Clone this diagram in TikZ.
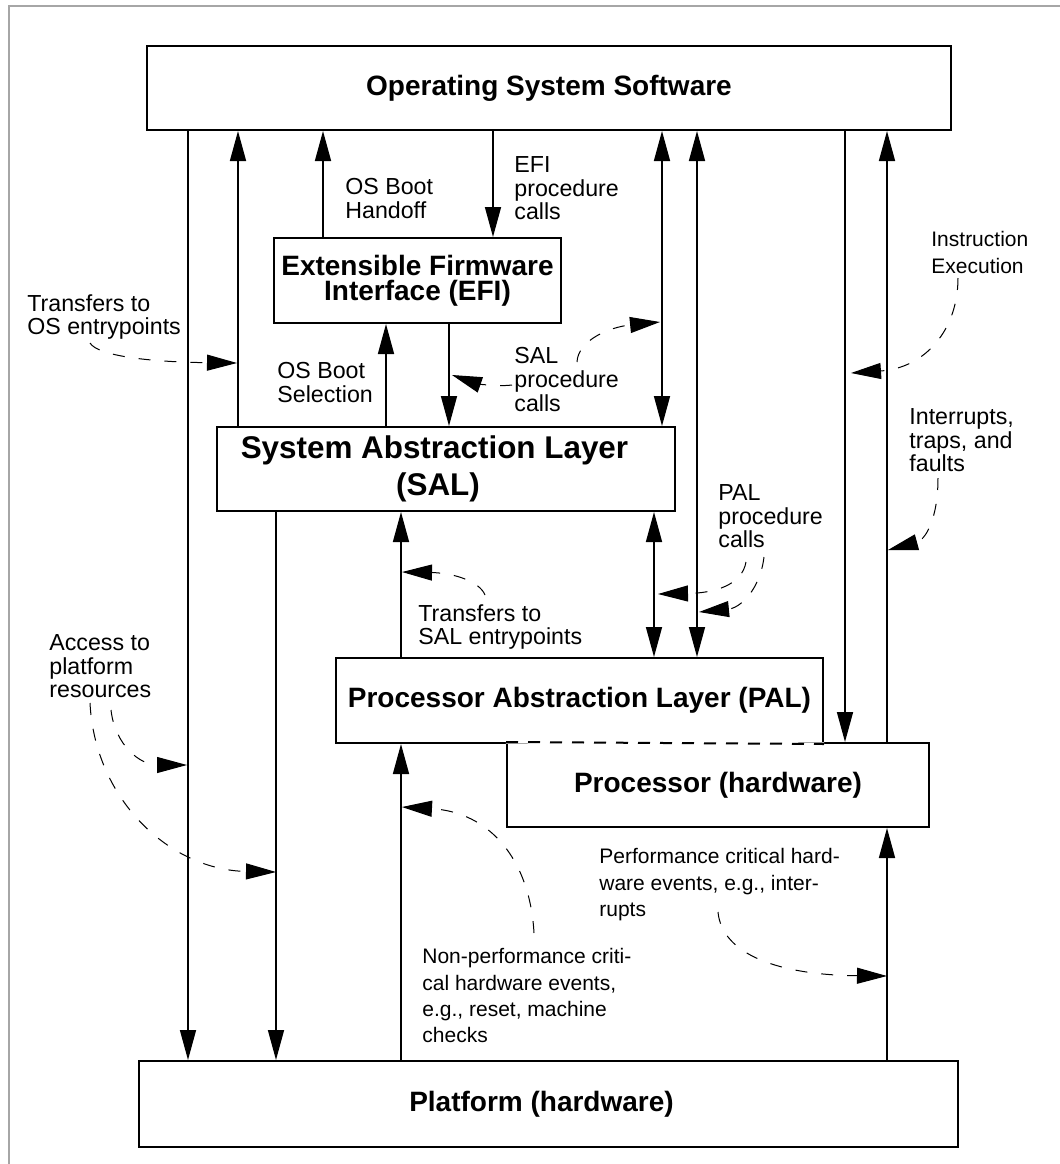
\documentclass[tikz,border=0pt]{standalone}
\usepackage{fontspec}
\setmainfont{Liberation Sans}
\usetikzlibrary{arrows.meta}

\begin{document}
\begin{tikzpicture}[
            x=0.5pt, y=-0.5pt,
            box/.style={draw, line width=1pt, align=center, inner sep=0pt,
            font=\bfseries\fontsize{14}{12.5}\selectfont},
            lbl/.style={anchor=north west, inner sep=0pt, align=left,
            font=\fontsize{11.6}{11.9}\selectfont},
            para/.style={anchor=north west, inner sep=0pt, align=left,
            font=\fontsize{10.5}{13.2}\selectfont},
            ar/.style={-{Triangle[length=15pt,width=8pt]}, line width=0.8pt},
            dar/.style={{Triangle[length=15pt,width=8pt]}-{Triangle[length=15pt,width=8pt]}, line width=0.8pt},
            hint/.style={-{Triangle[length=15pt,width=8pt]}, line width=0.5pt, dash pattern=on 6pt off 7pt}
        ]
            \useasboundingbox (0,0) rectangle (1060,1164);
            \draw[gray!70, line width=0.6pt] (9,1164) -- (9,6) -- (1060,6);
% layers
            \node[box, minimum width=402pt, minimum height=42pt]   (os)   at (549,88)    {Operating System Software};
            \node[box, minimum width=143.5pt, minimum height=42.5pt] (efi) at (417.5,280.5) {Extensible Firmware\\Interface (EFI)};
            \node[box, minimum width=229pt, minimum height=42pt,
                  font=\bfseries\fontsize{15.7}{18.5}\selectfont] (sal) at (446,469)
                  {System Abstraction Layer\hspace*{11.5pt}\\(SAL)\hspace*{8pt}};
            \node[box, minimum width=243.5pt, minimum height=42.5pt] (pal) at (579.5,700.5) {Processor Abstraction Layer (PAL)};
            \node[box, minimum width=211pt, minimum height=42pt]   (proc) at (718,785)   {Processor (hardware)};
            \node[box, minimum width=409.5pt, minimum height=43pt] (plat) at (548.5,1104)
                  {\raisebox{2pt}{Platform (hardware)}\hspace*{7pt}};
            \draw[white, line width=1.6pt] (proc.north west) -- (pal.south east);
            \draw[line width=1pt, dash pattern=on 6pt off 5pt] (proc.north west) -- (pal.south east);
% columns of the vertical connectors
            \coordinate (va) at (188,0);
            \coordinate (vb) at (238,0);
            \coordinate (vc) at (276,0);
            \coordinate (vd) at (323,0);
            \coordinate (ve) at (386,0);
            \coordinate (vf) at (401,0);
            \coordinate (vg) at (449,0);
            \coordinate (vh) at (493,0);
            \coordinate (vi) at (654,0);
            \coordinate (vj) at (662,0);
            \coordinate (vk) at (697,0);
            \coordinate (vl) at (845,0);
            \coordinate (vm) at (887,0);

            \draw[ar]  (os.south -| va)   -- (plat.north -| va);
            \draw[ar]  (sal.north -| vb)  -- (os.south -| vb);
            \draw[ar]  (sal.south -| vc)  -- (plat.north -| vc);
            \draw[ar]  (efi.north -| vd)  -- (os.south -| vd);
            \draw[ar]  (sal.north -| ve)  -- (efi.south -| ve);
            \draw[ar]  (pal.north -| vf)  -- (sal.south -| vf);
            \draw[ar]  (plat.north -| vf) -- (pal.south -| vf);
            \draw[ar]  (efi.south -| vg)  -- (sal.north -| vg);
            \draw[ar]  (os.south -| vh)   -- (efi.north -| vh);
            \draw[dar] (sal.south -| vi)  -- (pal.north -| vi);
            \draw[dar] (os.south -| vj)   -- (sal.north -| vj);
            \draw[dar] (os.south -| vk)   -- (pal.north -| vk);
            \draw[ar]  (os.south -| vl)   -- (proc.north -| vl);
            \draw[ar]  (proc.north -| vm) -- (os.south -| vm);
            \draw[ar]  (plat.north -| vm) -- (proc.south -| vm);
% labels
            \node[lbl]  (hand) at (345,178) {OS Boot\\Handoff};
            \node[lbl]  (efic) at (514,156) {EFI\\procedure\\calls};
            \node[para] (inst) at (931,231) {Instruction\\Execution};
            \node[lbl]  (tos)  at (27,294)  {Transfers to\\OS entrypoints};
            \node[lbl]  (sel)  at (277,362) {OS Boot\\Selection};
            \node[lbl]  (salc) at (514,347) {SAL\\procedure\\calls};
            \node[lbl]  (intr) at (909,408) {Interrupts,\\traps, and\\faults};
            \node[lbl]  (palc) at (718,484) {PAL\\procedure\\calls};
            \node[lbl]  (acc)  at (49,634)  {Access to\\platform\\resources};
            \node[lbl]  (tsal) at (418,604) {Transfers to\\SAL entrypoints};
            \node[para] (perf) at (599,848) {Performance critical hard-\\ware events, e.g., inter-\\rupts};
            \node[para] (nonp) at (422,948) {Non-performance criti-\\cal hardware events,\\e.g., reset, machine\\checks};
% dashed pointers
            \coordinate (tosA)   at (90,343);   \coordinate (tosB)   at (237,363);
            \coordinate (salcA)  at (577,362);  \coordinate (salcB)  at (660,322);
            \coordinate (salcC)  at (512,385);  \coordinate (salcD)  at (452,375);
            \coordinate (instA)  at (958,278);  \coordinate (instB)  at (851,373);
            \coordinate (intrA)  at (938,478);  \coordinate (intrB)  at (888,550);
            \coordinate (palcA)  at (746,562);  \coordinate (palcB)  at (658,594);
            \coordinate (palcC)  at (764,557);  \coordinate (palcD)  at (699,612);
            \coordinate (tsalA)  at (485,595);  \coordinate (tsalB)  at (402,572);
            \coordinate (accA)   at (111,710);  \coordinate (accB)   at (187,765);
            \coordinate (accC)   at (90,703);   \coordinate (accD)   at (276,872);
            \coordinate (nonpA)  at (534,933);  \coordinate (nonpB)  at (402,807);
            \coordinate (perfA)  at (718,912);  \coordinate (perfB)  at (887,976);

            \draw[hint] (tosA)  .. controls (98,356) and (150,362) .. (tosB);
            \draw[hint] (salcA) .. controls (578,340) and (610,327) .. (salcB);
            \draw[hint] (salcC) .. controls (495,387) and (475,383) .. (salcD);
            \draw[hint] (instA) .. controls (958,330) and (925,368) .. (instB);
            \draw[hint] (intrA) .. controls (938,520) and (925,540) .. (intrB);
            \draw[hint] (palcA) .. controls (742,585) and (715,593) .. (palcB);
            \draw[hint] (palcC) .. controls (760,590) and (740,608) .. (palcD);
            \draw[hint] (tsalA) .. controls (480,582) and (455,573) .. (tsalB);
            \draw[hint] (accA)  .. controls (115,745) and (140,765) .. (accB);
            \draw[hint] (accC)  .. controls (95,800) and (170,870) .. (accD);
            \draw[hint] (nonpA) .. controls (530,860) and (490,812) .. (nonpB);
            \draw[hint] (perfA) .. controls (722,955) and (780,975) .. (perfB);
        \end{tikzpicture}
\end{document}
